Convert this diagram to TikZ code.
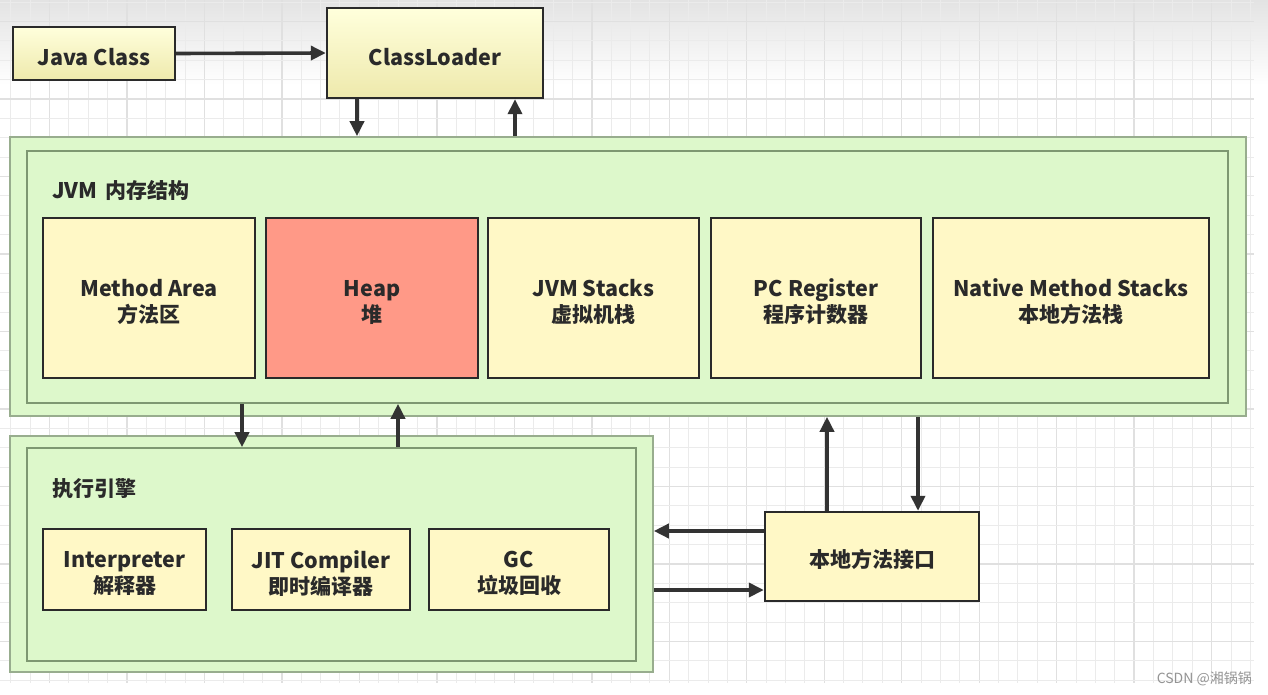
\documentclass[tikz,border=0pt]{standalone}
\usepackage{fontspec}
\setmainfont{Noto Sans CJK SC}
\usetikzlibrary{arrows.meta}
\definecolor{ylw}{HTML}{FFF8C6}
\definecolor{ylwtop}{HTML}{FFFFDC}
\definecolor{ylwbot}{HTML}{EEE9AC}
\definecolor{heapc}{HTML}{FF9987}
\definecolor{grn}{HTML}{DDF8CB}
\definecolor{grnline}{HTML}{7E9872}
\definecolor{ink}{HTML}{2A2A2A}
\definecolor{arrc}{HTML}{333333}
\definecolor{gridc}{HTML}{EBEBEB}
\definecolor{gridm}{HTML}{E0E0E0}
\newcommand{\lat}[1]{{\fontsize{21.5}{26}\selectfont\bfseries #1}}
\newcommand{\han}[1]{{\fontsize{21}{26}\selectfont\bfseries #1}}
\newcommand{\lift}{\rule{0pt}{25pt}}
\newcommand{\twol}[2]{\lift\lat{#1}\\\han{#2}}
\tikzset{
  box/.style={draw=ink, line width=2.4pt, fill=ylw, inner sep=0pt, align=center, text=ink,
    font=\fontsize{21}{26}\selectfont\bfseries},
  gbox/.style={box, top color=ylwtop, bottom color=ylwbot},
  hbox/.style={box, fill=heapc},
  outerg/.style={draw=grnline!80, line width=1.6pt, fill=grn, inner sep=0pt},
  innerg/.style={draw=grnline, line width=1.6pt, fill=grn, inner sep=0pt},
  arr/.style={draw=arrc, line width=3.6pt, -{Triangle[length=15pt,width=14pt]}},
  lbl/.style={anchor=west, inner sep=0pt, text=ink, font=\fontsize{21}{26}\selectfont\bfseries},
  gridminor/.style={draw=gridc, line width=1pt},
  gridmajor/.style={draw=gridm, line width=1.4pt}
}
\begin{document}
\begin{tikzpicture}[x=1pt,y=-1pt]
\useasboundingbox (0,0) rectangle (1268,695);
\fill[white] (0,0) rectangle (1268,695);
\shade[top color=black!11, bottom color=white] (0,0) rectangle (1268,85);
% grid
\foreach \k in {0,...,64}{
  \pgfmathtruncatemacro{\m}{mod(\k,4)}
  \ifnum\m=2 \draw[gridmajor] ({10.7+19.37*\k},0) -- ({10.7+19.37*\k},683);
  \else \draw[gridminor] ({10.7+19.37*\k},0) -- ({10.7+19.37*\k},683); \fi
}
\foreach \k in {0,...,35}{
  \pgfmathtruncatemacro{\m}{mod(\k,4)}
  \ifnum\m=1 \draw[gridmajor] (0,{2.2+19.37*\k}) -- (1254,{2.2+19.37*\k});
  \else \draw[gridminor] (0,{2.2+19.37*\k}) -- (1254,{2.2+19.37*\k}); \fi
}
% top nodes
\node[gbox, minimum width=162, minimum height=53] (jc) at (94,53.5) {\lift\lat{Java Class}};
\node[gbox, minimum width=216, minimum height=90] (cl) at (435,53) {\lift\lat{ClassLoader}};
% memory structure
\node[outerg, minimum width=1236, minimum height=279] (memout) at (628,276.5) {};
\node[innerg, minimum width=1201, minimum height=252] (memin) at (627.5,277) {};
\node[lbl] (memlbl) at (52,190) {\lat{JVM}\hspace{8pt}\han{内存结构}};
\node[box, minimum width=212, minimum height=160] (ma) at (149,298) {\twol{Method Area}{方法区}};
\node[hbox, minimum width=212, minimum height=160] (heap) at (372,298) {\twol{Heap}{堆}};
\node[box, minimum width=211, minimum height=160] (js) at (593.5,298) {\twol{JVM Stacks}{虚拟机栈}};
\node[box, minimum width=210, minimum height=160] (pc) at (816,298) {\twol{PC Register}{程序计数器}};
\node[box, minimum width=276, minimum height=160] (nms) at (1071,298) {\twol{Native Method Stacks}{本地方法栈}};
% execution engine
\node[outerg, minimum width=643, minimum height=236] (exout) at (331.5,554) {};
\node[innerg, minimum width=609, minimum height=213] (exin) at (331.5,554.5) {};
\node[lbl] (exlbl) at (52,489) {\han{执行引擎}};
\node[box, minimum width=163, minimum height=81] (interp) at (124.5,569.5) {\twol{Interpreter}{解释器}};
\node[box, minimum width=178, minimum height=81] (jit) at (321,569.5) {\twol{JIT Compiler}{即时编译器}};
\node[box, minimum width=180, minimum height=81] (gc) at (519,569.5) {\twol{GC}{垃圾回收}};
% native interface
\node[box, minimum width=214, minimum height=89] (ni) at (872,556.5) {\lift\han{本地方法接口}};
% arrows
\draw[arr] (jc.east) -- (cl.west);
\draw[arr] (cl.south -| 357,0) -- (memout.north -| 357,0);
\draw[arr] (memout.north -| 515,0) -- (cl.south -| 515,0);
\draw[arr] (memin.south -| 242,0) -- (exin.north -| 242,0);
\draw[arr] (exin.north -| 398,0) -- (memin.south -| 398,0);
\draw[arr] (ni.north -| 827,0) -- (memout.south -| 827,0);
\draw[arr] (memout.south -| 918,0) -- (ni.north -| 918,0);
\draw[arr] (ni.west |- 0,531) -- (exout.east |- 0,531);
\draw[arr] (exout.east |- 0,590) -- (ni.west |- 0,590);
% watermark
\node[anchor=east, inner sep=0pt, text=black!42] (wm) at (1252,679) {\fontsize{14}{16}\selectfont CSDN @湘锅锅};
\end{tikzpicture}
\end{document}
